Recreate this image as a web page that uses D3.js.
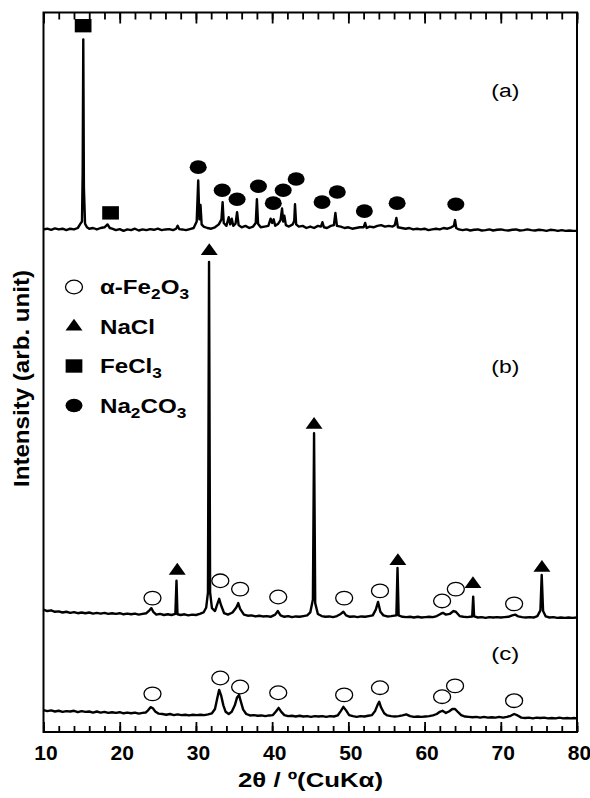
<!DOCTYPE html>
<html>
<head>
<meta charset="utf-8">
<script src="https://cdn.jsdelivr.net/npm/d3@7"></script>
<style>
  body { margin: 0; background: #fff; }
  text { font-family: Arial, "Liberation Sans", sans-serif; fill: #000; }
</style>
</head>
<body>
<svg id="chart" width="590" height="798"></svg>
<script>
// 2theta ticks
var majorTicks = [10, 20, 30, 40, 50, 60, 70, 80];
var minorTicks = d3.range(10, 81, 2);

// vertical offset of each pattern (arb. unit)
var offsets = [69.7, 16.4, 2.8];
var panelLabels = ["(a)", "(b)", "(c)"];

// (a) precursor  [2theta, intensity]
var traceA = [[10,0.1],[10.5,0.2],[11,0.05],[11.5,0.25],[12,0.1],[12.5,0.2],[13,0.0],[13.5,0.2],[14,0.1],[14.5,0.3],
  [14.85,0.9],[15.05,1.2],[15.14,8],[15.22,26.5],[15.3,6],[15.45,0.9],[15.7,0.4],[16,0.2],[16.5,0.3],[17,0.1],[17.5,0.3],
  [18,0.4],[18.4,0.8],[18.7,0.3],[19,0.2],[19.5,0.0],[20,0.15],[20.5,-0.1],[21,0.1],[21.5,0.0],[22,0.2],[22.5,-0.05],
  [23,0.1],[23.5,0.0],[24,0.15],[24.5,0.05],[25,0.2],[25.5,0.0],[26,0.1],[26.5,0.15],[27,0.0],[27.4,0.2],[27.6,0.6],
  [27.8,0.15],[28.2,0.1],[28.7,0.0],[29.2,0.15],[29.7,0.3],[30.1,1.2],[30.3,6.9],[30.45,1.5],[30.6,3.5],[30.75,0.8],
  [31,0.5],[31.5,0.3],[32,0.2],[32.5,0.4],[33.0,0.8],[33.35,1.5],[33.5,3.9],[33.65,1.0],[34,0.6],[34.3,1.8],[34.5,0.8],
  [34.7,1.6],[34.9,0.6],[35.2,0.9],[35.4,2.5],[35.6,0.7],[36,0.4],[36.5,0.6],[37,0.3],[37.5,0.5],[37.85,1.0],[38.0,4.3],
  [38.15,0.9],[38.5,0.4],[39,0.5],[39.5,0.6],[39.8,1.6],[40.0,1.0],[40.2,1.5],[40.4,0.6],[40.8,0.9],[41.1,1.4],[41.3,3.0],
  [41.45,1.2],[41.6,2.0],[41.8,0.7],[42.2,0.5],[42.7,0.8],[42.9,1.3],[43.0,3.6],[43.15,0.8],[43.5,0.5],[44,0.6],[44.5,0.3],
  [45,0.5],[45.5,0.3],[46,0.6],[46.4,0.5],[46.6,1.1],[46.8,0.4],[47.2,0.3],[47.7,0.6],[48.1,0.7],[48.3,2.4],[48.5,0.6],
  [49,0.5],[49.5,0.3],[50,0.4],[50.5,0.2],[51,0.3],[51.5,0.4],[52,0.4],[52.2,1.0],[52.4,0.3],[52.8,0.5],[53.3,0.4],
  [53.8,0.6],[54.3,0.7],[54.8,0.5],[55.3,0.6],[55.8,0.5],[56.1,0.7],[56.3,1.7],[56.5,0.4],[57,0.3],[57.5,0.2],[58,0.3],
  [58.5,0.1],[59,0.2],[59.5,0.1],[60,0.2],[60.5,0.0],[61,0.1],[61.5,0.2],[62,0.1],[62.5,0.3],[63,0.2],[63.5,0.4],
  [63.85,0.6],[64.0,1.4],[64.15,0.3],[64.5,0.1],[65,0.0],[65.5,0.1],[66,-0.05],[66.5,0.05],[67,0.1],[67.5,-0.05],[68,0.0],
  [68.5,0.1],[69,-0.05],[69.5,0.05],[70,0.1],[70.5,0.0],[71,-0.05],[71.5,0.05],[72,0.1],[72.5,-0.05],[73,0.0],[73.5,0.1],
  [74,0.0],[74.5,-0.05],[75,0.05],[75.5,0.0],[76,-0.1],[76.5,0.05],[77,0.0],[77.5,-0.1],[78,0.0],[78.5,-0.1],[79,-0.05],
  [79.5,-0.1],[80,-0.1]];

// (b)
var traceB = [[10,0.6],[10.5,0.4],[11,0.5],[11.5,0.3],[12,0.35],[12.5,0.2],[13,0.3],[13.5,0.15],[14,0.25],[14.5,0.1],
  [15,0.2],[15.5,0.1],[16,0.2],[16.5,0.05],[17,0.15],[17.5,0.05],[18,0.15],[18.5,0.0],[19,0.1],[19.5,0.0],[20,0.1],
  [20.5,-0.05],[21,0.05],[21.5,-0.05],[22,0.05],[22.5,-0.1],[23,0.0],[23.5,0.1],[23.9,0.5],[24.15,0.8],[24.4,0.3],
  [24.8,-0.1],[25.3,0.0],[25.8,-0.15],[26.3,-0.05],[26.8,-0.15],[27.3,0.0],[27.45,4.6],[27.58,-0.05],[28,-0.15],
  [28.5,-0.05],[29,-0.2],[29.5,-0.1],[30,-0.15],[30.5,0.0],[31.0,0.2],[31.35,0.9],[31.58,3],[31.72,48.9],[31.86,3],
  [32.1,0.8],[32.5,0.4],[32.85,1.5],[33.05,2.1],[33.3,1.2],[33.7,0.1],[34.2,-0.1],[34.8,0.2],[35.3,0.9],[35.55,1.5],
  [35.8,0.7],[36.3,-0.1],[36.8,-0.25],[37.3,-0.2],[37.8,-0.35],[38.3,-0.25],[38.8,-0.35],[39.3,-0.3],[39.8,-0.4],
  [40.4,-0.1],[40.75,0.4],[41.1,-0.2],[41.6,-0.4],[42.1,-0.3],[42.6,-0.45],[43.1,-0.35],[43.6,-0.4],[44.1,-0.3],
  [44.6,-0.2],[45.0,0.2],[45.35,2.0],[45.5,25.1],[45.65,1.5],[46.0,0.0],[46.5,-0.3],[47,-0.4],[47.5,-0.35],[48,-0.45],
  [48.5,-0.3],[49.0,0.0],[49.35,0.3],[49.7,-0.2],[50.2,-0.4],[50.7,-0.35],[51.2,-0.45],[51.7,-0.35],[52.2,-0.4],
  [52.7,-0.3],[53.2,-0.2],[53.6,0.6],[53.9,1.67],[54.2,0.3],[54.6,-0.2],[55.1,-0.35],[55.6,-0.3],[56.3,-0.2],[56.45,6.4],
  [56.6,-0.2],[57.1,-0.4],[57.6,-0.45],[58.1,-0.4],[58.6,-0.5],[59.1,-0.4],[59.6,-0.5],[60.1,-0.45],[60.6,-0.4],
  [61.1,-0.45],[61.6,-0.3],[62.1,0.0],[62.4,0.15],[62.8,-0.1],[63.3,0.0],[63.8,0.4],[64.1,0.3],[64.6,-0.3],[65.1,-0.4],
  [65.6,-0.45],[66.25,-0.35],[66.38,2.4],[66.5,-0.35],[67,-0.5],[67.5,-0.45],[68,-0.55],[68.5,-0.45],[69,-0.5],
  [69.5,-0.45],[70,-0.5],[70.5,-0.45],[71,-0.4],[71.5,-0.2],[71.9,-0.1],[72.3,-0.35],[72.8,-0.45],[73.3,-0.5],
  [73.8,-0.45],[74.3,-0.5],[74.8,-0.3],[75.2,0.5],[75.37,5.4],[75.55,0.4],[75.9,-0.35],[76.4,-0.5],[76.9,-0.45],
  [77.4,-0.55],[77.9,-0.5],[78.4,-0.55],[78.9,-0.5],[79.4,-0.55],[80,-0.5]];

// (c)
var traceC = [[10,0.25],[10.5,0.1],[11,0.2],[11.5,0.05],[12,0.15],[12.5,0.0],[13,0.1],[13.5,0.05],[14,0.15],[14.5,-0.05],
  [15,0.1],[15.5,0.0],[16,0.05],[16.5,-0.1],[17,0.05],[17.5,-0.1],[18,0.0],[18.5,-0.15],[19,-0.05],[19.5,-0.15],
  [20,-0.05],[20.5,-0.2],[21,-0.1],[21.5,-0.2],[22,-0.1],[22.5,-0.25],[23,-0.15],[23.4,-0.1],[23.75,0.25],[24.05,0.65],
  [24.35,0.5],[24.7,0.0],[25.1,-0.25],[25.6,-0.3],[26.1,-0.4],[26.6,-0.3],[27.1,-0.45],[27.6,-0.35],[28.1,-0.45],
  [28.6,-0.4],[29.1,-0.5],[29.6,-0.4],[30.1,-0.45],[30.6,-0.4],[31.1,-0.45],[31.6,-0.35],[32.1,-0.2],[32.5,0.4],
  [32.8,1.9],[33.05,3.05],[33.3,2.3],[33.6,0.9],[33.9,0.0],[34.3,-0.3],[34.7,0.0],[35.1,0.9],[35.4,2.0],[35.65,2.36],
  [35.9,1.4],[36.2,0.3],[36.6,-0.3],[37.1,-0.5],[37.6,-0.45],[38.1,-0.55],[38.6,-0.5],[39.1,-0.6],[39.6,-0.5],
  [40.1,-0.45],[40.5,0.05],[40.85,0.55],[41.2,0.0],[41.6,-0.45],[42.1,-0.6],[42.6,-0.55],[43.1,-0.65],[43.6,-0.55],
  [44.1,-0.65],[44.6,-0.6],[45.1,-0.7],[45.6,-0.6],[46.1,-0.65],[46.6,-0.6],[47.1,-0.7],[47.6,-0.6],[48.1,-0.65],
  [48.6,-0.5],[49.0,0.1],[49.35,0.69],[49.7,0.2],[50.1,-0.45],[50.6,-0.6],[51.1,-0.7],[51.6,-0.6],[52.1,-0.65],
  [52.6,-0.55],[53.1,-0.45],[53.5,0.1],[53.85,1.0],[54.05,1.39],[54.3,0.6],[54.7,-0.2],[55.1,-0.5],[55.6,-0.6],
  [56.1,-0.65],[56.6,-0.6],[57.1,-0.5],[57.6,-0.35],[58.1,-0.6],[58.6,-0.7],[59.1,-0.65],[59.6,-0.7],[60.1,-0.65],
  [60.6,-0.6],[61.1,-0.5],[61.6,-0.3],[62.0,0.0],[62.35,0.15],[62.8,-0.15],[63.2,0.05],[63.65,0.4],[64.0,0.4],
  [64.4,-0.05],[64.8,-0.45],[65.3,-0.65],[65.8,-0.7],[66.3,-0.75],[66.8,-0.7],[67.3,-0.8],[67.8,-0.7],[68.3,-0.8],
  [68.8,-0.75],[69.3,-0.8],[69.8,-0.7],[70.3,-0.8],[70.8,-0.7],[71.3,-0.55],[71.75,-0.3],[72.2,-0.5],[72.7,-0.8],
  [73.2,-0.85],[73.7,-0.8],[74.2,-0.9],[74.7,-0.8],[75.2,-0.85],[75.7,-0.8],[76.2,-0.9],[76.7,-0.85],[77.2,-0.9],
  [77.7,-0.8],[78.2,-0.9],[78.7,-0.85],[79.2,-0.9],[79.6,-0.85],[80,-0.9]];

// phase markers [2theta, height above pattern baseline]
var fecl3A = [[15.2, 28.4], [18.8, 2.4]];
var na2co3A = [[30.3, 8.75], [33.45, 5.55], [35.4, 4.3], [38.2, 6.1], [40.15, 3.75], [41.45, 5.55],
  [43.15, 7.1], [46.55, 3.9], [48.55, 5.3], [52.1, 2.65], [56.4, 3.75], [64.1, 3.6]];
var naclB = [[27.55, 6.0], [31.75, 50.4], [45.5, 26.25], [56.5, 7.35], [66.35, 4.15], [75.4, 6.4]];
var fe2o3B = [[24.3, 2.2], [33.2, 4.6], [35.8, 3.45], [40.8, 2.35], [49.45, 2.2], [54.15, 3.2],
  [62.3, 1.8], [64.1, 3.45], [71.75, 1.4]];
var fe2o3C = [[24.3, 2.5], [33.2, 4.7], [35.8, 3.45], [40.8, 2.65], [49.45, 2.35], [54.15, 3.35],
  [62.3, 2.1], [64.0, 3.6], [71.75, 1.55]];

var svg = d3.select("#chart");
var x = d3.scaleLinear().domain([10, 80]).range([43.5, 577]);
var y = d3.scaleLinear().domain([0, 100]).range([732, 12]);

// patterns
var traces = [traceA, traceB, traceC];
traces.forEach(function (t, i) {
  var line = d3.line()
    .x(function (d) { return x(d[0]); })
    .y(function (d) { return y(d[1] + offsets[i]); });
  svg.append("path")
    .datum(t)
    .attr("d", line)
    .style("fill", "none")
    .style("stroke", "#000")
    .style("stroke-width", 2.4)
    .style("stroke-linejoin", "round");
});

// markers
var symbolTypes = {
  circle: d3.symbolCircle,
  triangle: d3.symbolTriangle,
  square: d3.symbolSquare
};
var symbolSizes = { circle: 227, triangle: 125, square: 280 };

function markerPath(type) {
  return d3.symbol().type(symbolTypes[type]).size(symbolSizes[type])();
}

function drawMarkers(list, off, type, filled) {
  svg.append("g").selectAll("path")
    .data(list)
    .join("path")
    .attr("d", markerPath(type))
    .attr("transform", function (d) {
      return "translate(" + x(d[0]) + "," + y(d[1] + off) + ") scale(1,0.8)";
    })
    .style("fill", filled ? "#000" : "#fff")
    .style("stroke", "#000")
    .style("stroke-width", filled ? 0 : 1.3)
    .attr("vector-effect", "non-scaling-stroke");
}

drawMarkers(fecl3A, offsets[0], "square", true);
drawMarkers(na2co3A, offsets[0], "circle", true);
drawMarkers(naclB, offsets[1], "triangle", true);
drawMarkers(fe2o3B, offsets[1], "circle", false);
drawMarkers(fe2o3C, offsets[2], "circle", false);

// panel labels
var labelPos = [[70.6, 88.2], [70.6, 49.9], [70.6, 10.0]];
svg.append("g").selectAll("text")
  .data(panelLabels)
  .join("text")
  .attr("x", function (d, i) { return x(labelPos[i][0]) - 14; })
  .attr("y", function (d, i) { return y(labelPos[i][1]); })
  .attr("textLength", 28)
  .attr("lengthAdjust", "spacingAndGlyphs")
  .style("font-size", "18px")
  .text(function (d) { return d; });

// axes
function styleAxis(g) {
  g.select(".domain").remove();
  g.selectAll(".tick line").style("stroke", "#000").style("stroke-width", 1.8);
}

svg.append("g")
  .attr("transform", "translate(0,732)")
  .call(d3.axisBottom(x).tickValues(minorTicks).tickSize(-6).tickFormat(""))
  .call(styleAxis);
svg.append("g")
  .attr("transform", "translate(0,732)")
  .call(d3.axisBottom(x).tickValues(majorTicks).tickSizeInner(-10).tickSizeOuter(0).tickPadding(13))
  .call(styleAxis)
  .call(function (g) {
    g.selectAll("text")
      .style("font-size", "21px")
      .style("font-weight", "bold")
      .style("font-family", "Arial, 'Liberation Sans', sans-serif")
      .attr("dx", 2);
  });
svg.append("g")
  .attr("transform", "translate(0,12.5)")
  .call(d3.axisTop(x).tickValues(minorTicks).tickSize(-7).tickFormat(""))
  .call(styleAxis);
svg.append("g")
  .attr("transform", "translate(0,12.5)")
  .call(d3.axisTop(x).tickValues(majorTicks).tickSize(-11).tickFormat(""))
  .call(styleAxis);

// frame
svg.append("rect")
  .attr("x", 43.5).attr("y", 12.5)
  .attr("width", 577 - 43.5).attr("height", 732 - 12.5)
  .style("fill", "none")
  .style("stroke", "#000")
  .style("stroke-width", 2);

// axis titles
svg.append("text")
  .attr("x", 238).attr("y", 787)
  .attr("textLength", 145)
  .attr("lengthAdjust", "spacingAndGlyphs")
  .style("font-size", "20px")
  .style("font-weight", "bold")
  .text("2θ / º(CuKα)");

svg.append("text")
  .attr("transform", "translate(29,487) rotate(-90)")
  .attr("textLength", 217)
  .attr("lengthAdjust", "spacingAndGlyphs")
  .style("font-size", "22px")
  .style("font-weight", "bold")
  .text("Intensity (arb. unit)");

// legend
var legendItems = [
  { type: "circle", filled: false, parts: [["α-Fe", 0], ["2", 1], ["O", 0], ["3", 1]] },
  { type: "triangle", filled: true, parts: [["NaCl", 0]] },
  { type: "square", filled: true, parts: [["FeCl", 0], ["3", 1]] },
  { type: "circle", filled: true, parts: [["Na", 0], ["2", 1], ["CO", 0], ["3", 1]] }
];

var legend = svg.append("g").attr("transform", "translate(74,287)");
var rows = legend.selectAll("g")
  .data(legendItems)
  .join("g")
  .attr("transform", function (d, i) { return "translate(0," + (i * 39.5) + ")"; });

rows.append("path")
  .attr("d", function (d) { return markerPath(d.type); })
  .attr("transform", "scale(1,0.8)")
  .attr("vector-effect", "non-scaling-stroke")
  .style("fill", function (d) { return d.filled ? "#000" : "#fff"; })
  .style("stroke", "#000")
  .style("stroke-width", function (d) { return d.filled ? 0 : 1.3; });

rows.append("text")
  .attr("transform", "translate(26,7) scale(1.15,1)")
  .style("font-size", "21px")
  .style("font-weight", "bold")
  .each(function (d) {
    var t = d3.select(this);
    var prev = 0;
    d.parts.forEach(function (p) {
      var shift = p[1] ? 5 : 0;
      t.append("tspan")
        .attr("dy", shift - prev)
        .style("font-size", p[1] ? "15px" : "21px")
        .text(p[0]);
      prev = shift;
    });
  });
</script>
</body>
</html>
